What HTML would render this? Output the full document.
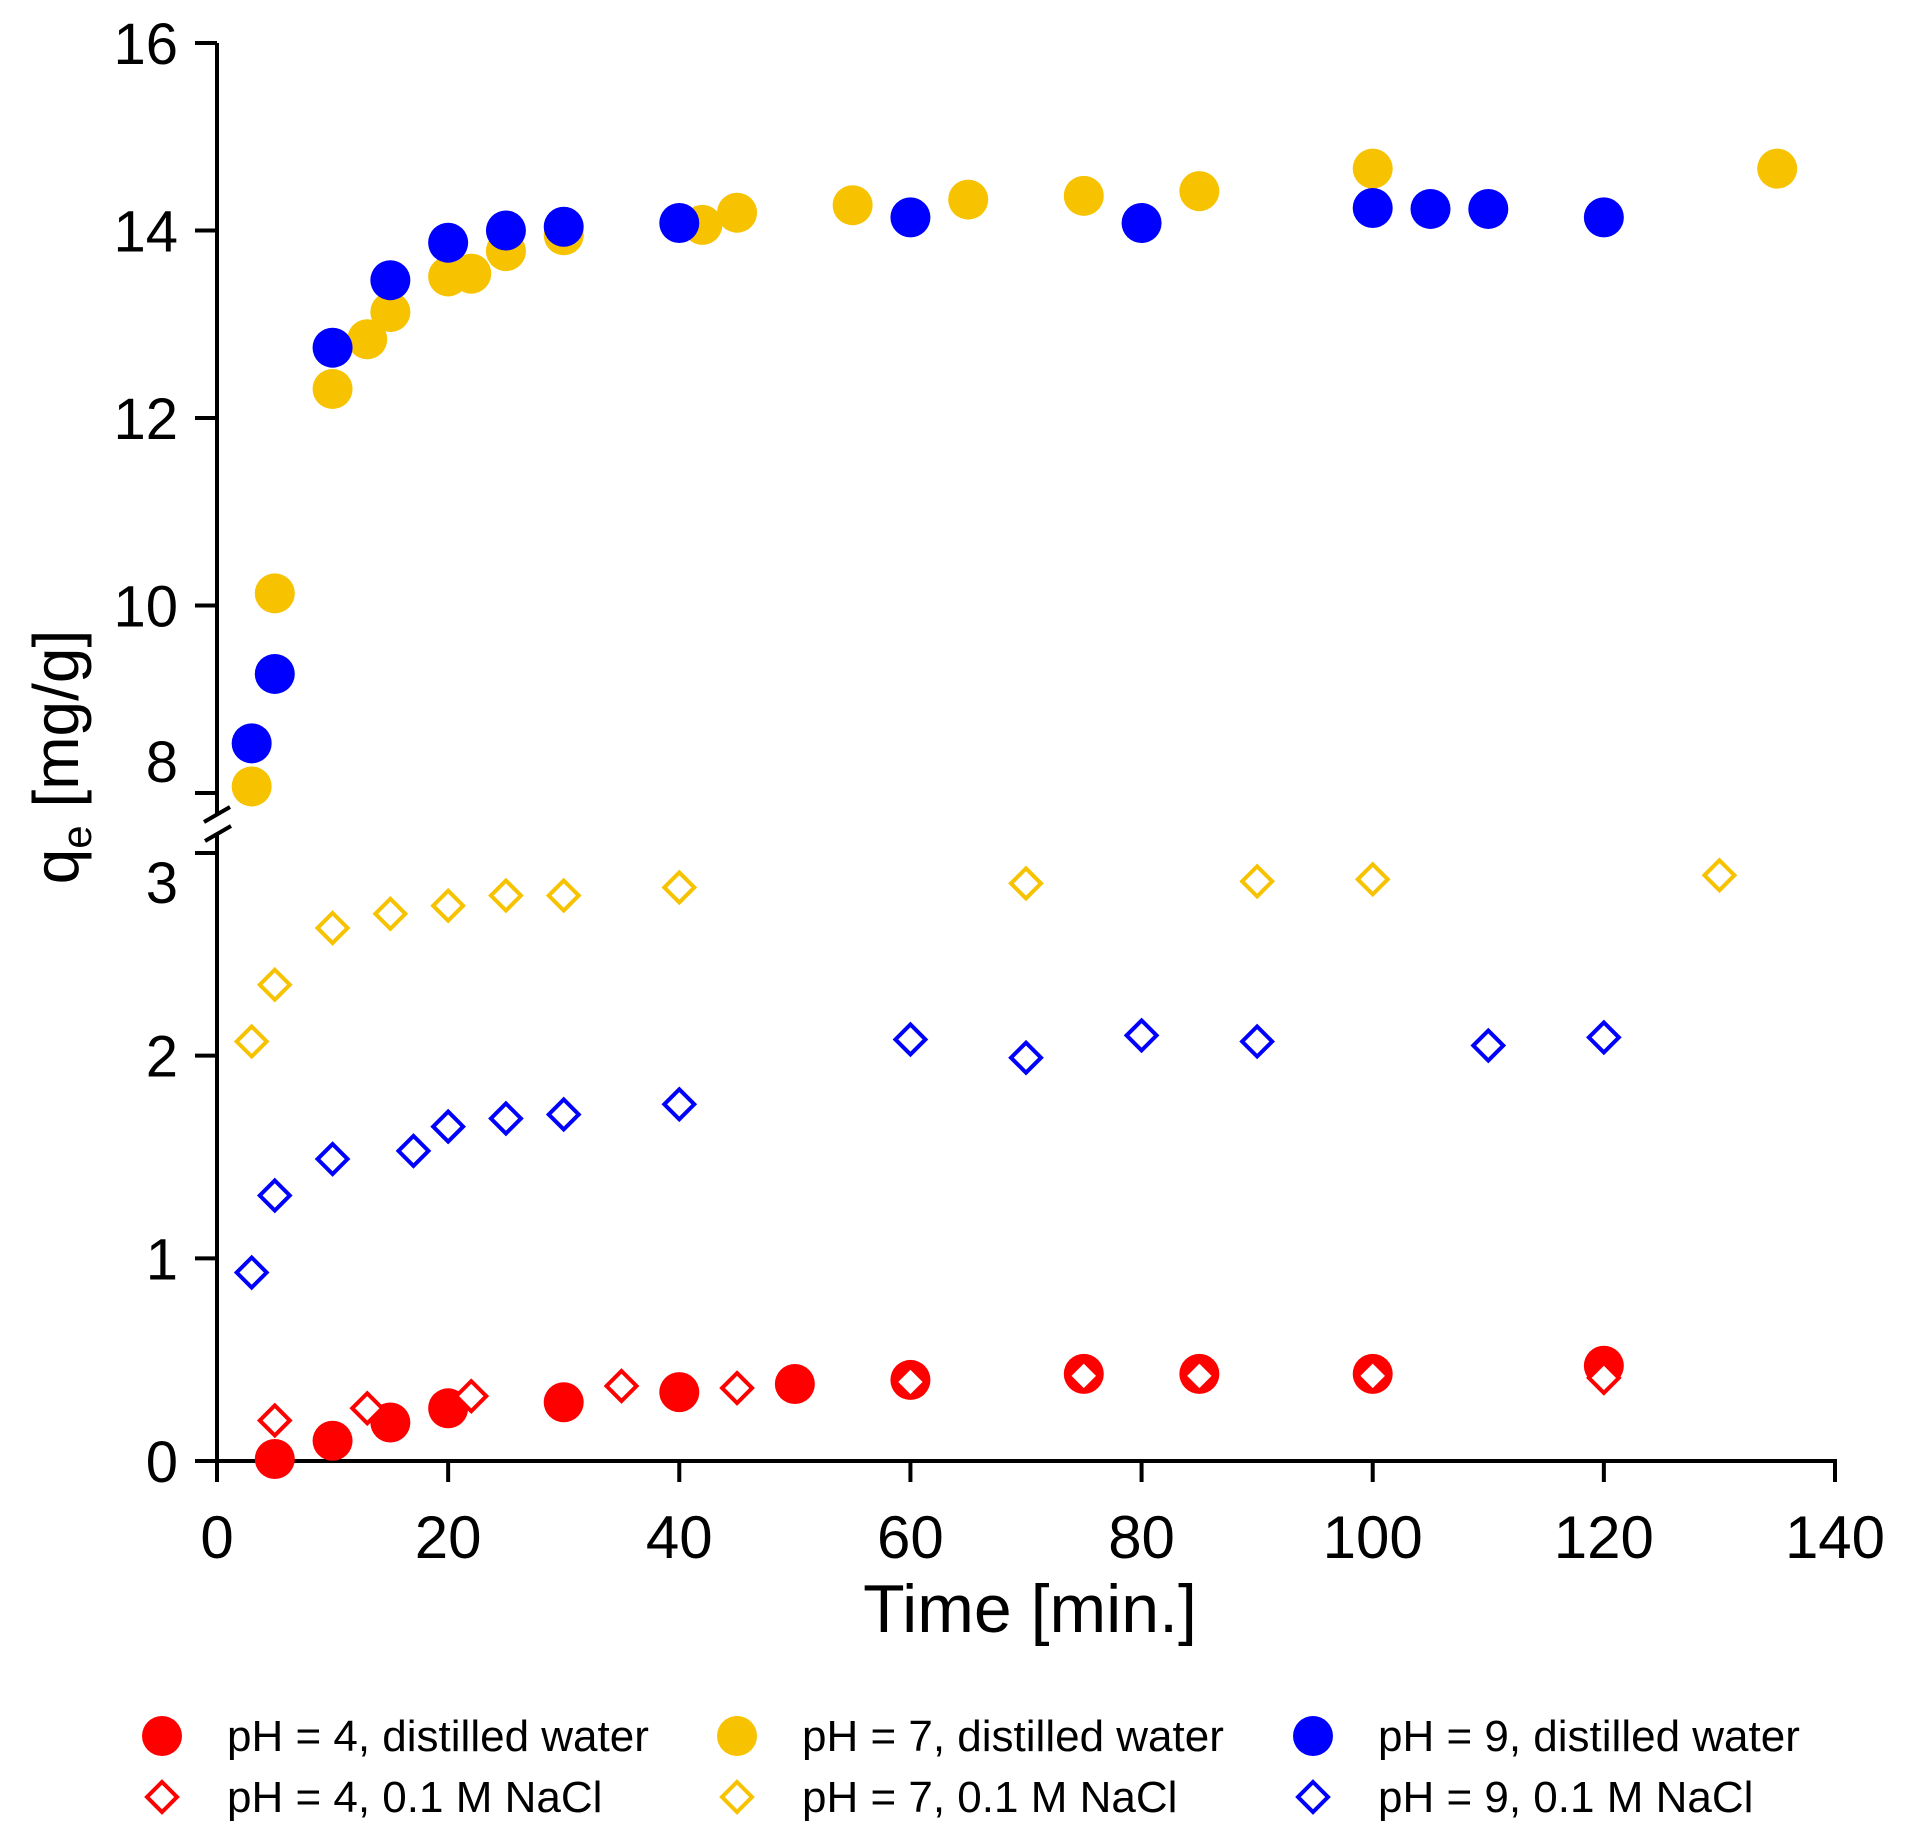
<!DOCTYPE html>
<html><head><meta charset="utf-8"><style>
html,body{margin:0;padding:0;background:#fff;}
svg{display:block;font-family:"Liberation Sans",Arial,sans-serif;}
</style></head><body>
<svg id="chart" width="1906" height="1848" viewBox="0 0 1906 1848" xmlns="http://www.w3.org/2000/svg">
<g id="axes"></g>
<g id="marks"></g>
<g id="legend"></g>
</svg>
<script>
const xTicks=[0,20,40,60,80,100,120,140];
const yUpperTicks=[8,10,12,14,16];
const yLowerTicks=[0,1,2,3];
const t4w=[5,10,15,20,30,40,50,60,75,85,100,120];
const q4w=[0.01,0.10,0.19,0.26,0.29,0.34,0.38,0.40,0.43,0.43,0.43,0.47];
const t7w=[3,5,10,13,15,20,22,25,30,42,45,55,65,75,85,100,135];
const q7w=[8.07,10.13,12.31,12.84,13.13,13.51,13.54,13.78,13.95,14.06,14.19,14.27,14.33,14.37,14.42,14.66,14.66];
const t9w=[3,5,10,15,20,25,30,40,60,80,100,105,110,120];
const q9w=[8.53,9.27,12.75,13.47,13.87,14.0,14.04,14.08,14.14,14.08,14.24,14.23,14.23,14.14];
const t4n=[5,13,22,35,45,60,75,85,100,120];
const q4n=[0.20,0.26,0.32,0.37,0.36,0.39,0.42,0.42,0.42,0.41];
const t7n=[3,5,10,15,20,25,30,40,70,90,100,130];
const q7n=[2.07,2.35,2.63,2.70,2.74,2.79,2.79,2.83,2.85,2.86,2.87,2.89];
const t9n=[3,5,10,17,20,25,30,40,60,70,80,90,110,120];
const q9n=[0.93,1.31,1.49,1.53,1.65,1.69,1.71,1.76,2.08,1.99,2.10,2.07,2.05,2.09];
const legendLabels=["pH = 4, distilled water","pH = 7, distilled water","pH = 9, distilled water","pH = 4, 0.1 M NaCl","pH = 7, 0.1 M NaCl","pH = 9, 0.1 M NaCl"];

const NS="http://www.w3.org/2000/svg";
const RED="#ff0000",YEL="#f7c200",BLU="#0000ff";
const X0=217,XS=(1835-217)/140;
function xPos(t){return X0+t*XS;}
function yLow(v){return 1461-v*(1461-853)/3;}
function yUp(v){return 43+(16-v)*(793-43)/8;}
function yPos(v){return v>=6?yUp(v):yLow(v);}
function mk(tag,attrs,parent){const e=document.createElementNS(NS,tag);for(const k in attrs)e.setAttribute(k,attrs[k]);parent.appendChild(e);return e;}
const axes=document.getElementById('axes'),marks=document.getElementById('marks'),legend=document.getElementById('legend');

let e;
e=mk('line',{x1:X0,y1:43,x2:X0,y2:815,stroke:'#000','stroke-width':4},axes);


e=mk('line',{x1:X0,y1:833,x2:X0,y2:1461,stroke:'#000','stroke-width':4},axes);


e=mk('line',{x1:X0,y1:1461,x2:1837,y2:1461,stroke:'#000','stroke-width':4},axes);


e=mk('path',{d:'M204,822 L230,807 M205,841 L231,826',stroke:'#000','stroke-width':4,fill:'none'},axes);


xTicks.forEach(t=>{
  mk('line',{x1:xPos(t),y1:1461,x2:xPos(t),y2:1482,stroke:'#000','stroke-width':4},axes);
  const tx=mk('text',{x:xPos(t),y:1558,'font-size':60,'text-anchor':'middle',fill:'#000'},axes);
  tx.textContent=t;
  
  
});
yUpperTicks.forEach(v=>{
  mk('line',{x1:195,y1:yUp(v),x2:X0,y2:yUp(v),stroke:'#000','stroke-width':4},axes);
  const off=(v===8)?-32:0;
  const tx=mk('text',{x:178,y:yUp(v)+21+off,'font-size':58,'text-anchor':'end',fill:'#000'},axes);
  tx.textContent=v;
  
  
});
yLowerTicks.forEach(v=>{
  mk('line',{x1:195,y1:yLow(v),x2:X0,y2:yLow(v),stroke:'#000','stroke-width':4},axes);
  const off=(v===3)?29:0;
  const tx=mk('text',{x:178,y:yLow(v)+21+off,'font-size':58,'text-anchor':'end',fill:'#000'},axes);
  tx.textContent=v;
  
  
});
e=mk('text',{x:1030,y:1632,'font-size':68,'text-anchor':'middle',fill:'#000'},axes);
e.textContent='Time [min.]';


e=mk('text',{x:0,y:0,'font-size':64,'text-anchor':'middle',fill:'#000',transform:'translate(78,757) rotate(-90)'},axes);
e.innerHTML='q<tspan font-size="42" dy="13">e</tspan><tspan dy="-13"> [mg/g]</tspan>';



function circle(cx,cy,col,parent){return mk('circle',{cx:cx,cy:cy,r:20,fill:col},parent);}
function diamond(cx,cy,col,parent){const h=15;return mk('path',{d:`M${cx},${cy-h} L${cx+h},${cy} L${cx},${cy+h} L${cx-h},${cy} Z`,fill:'#fff',stroke:col,'stroke-width':4},parent);}
function series(ts,qs,col,kind,name){
  ts.forEach((t,i)=>{
    const m=kind==='c'?circle(xPos(t),yPos(qs[i]),col,marks):diamond(xPos(t),yPos(qs[i]),col,marks);
    
    
  });
}
series(t7n,q7n,YEL,'d','ph7-nacl');
series(t9n,q9n,BLU,'d','ph9-nacl');
series(t7w,q7w,YEL,'c','ph7-water');
series(t9w,q9w,BLU,'c','ph9-water');
series(t4w,q4w,RED,'c','ph4-water');
series(t4n,q4n,RED,'d','ph4-nacl');

const lcols=[RED,YEL,BLU,RED,YEL,BLU];
const lx=[162,737,1313],ly=[1736,1797];
legendLabels.forEach((lab,i)=>{
  const c=i%3,r=Math.floor(i/3);
  const g=mk('g',{},legend);
  
  
  if(r===0)circle(lx[c],ly[r],lcols[i],g);else diamond(lx[c],ly[r],lcols[i],g);
  const tx=mk('text',{x:lx[c]+65,y:ly[r]+15,'font-size':44,fill:'#000'},g);
  tx.textContent=lab;
});
</script>
</body></html>
